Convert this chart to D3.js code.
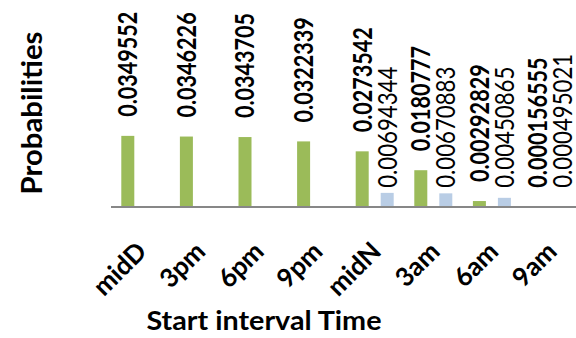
<!DOCTYPE html>
<html>
<head>
<meta charset="utf-8">
<script src="https://cdn.jsdelivr.net/npm/d3@7"></script>
<style>
  html, body { margin: 0; padding: 0; background: #fff; }
  svg { display: block; }
  text { font-family: Lato, "Liberation Sans", sans-serif; fill: #000; }
</style>
</head>
<body>
<svg id="chart" width="576" height="338"></svg>
<script>
// Start interval of the time window
const categories = ["midD", "3pm", "6pm", "9pm", "midN", "3am", "6am", "9am"];
// First series (green, bold labels)
const seriesA = [0.0349552, 0.0346226, 0.0343705, 0.0322339, 0.0273542, 0.0180777, 0.00292829, 0.000156555];
// Second series (light blue); null where there is no bar
const seriesB = [null, null, null, null, 0.00694344, 0.00670883, 0.00450865, 0.000495021];
const seriesLabels = ["0.0349552", "0.0346226", "0.0343705", "0.0322339", "0.0273542", "0.0180777", "0.00292829", "0.000156555"];
const seriesBLabels = [null, null, null, null, "0.00694344", "0.00670883", "0.00450865", "0.000495021"];
const keys = ["a", "b"];
const colors = { a: "#9BBB59", b: "#B9CDE5" };

const svg = d3.select("#chart");
const W = 576, H = 338;
const left = 111, baseY = 207;

const x0 = d3.scaleBand().domain(categories).range([left, left + 8 * 58.6]).paddingInner(0).paddingOuter(0);
const x1 = d3.scaleBand().domain(keys).range([0, x0.bandwidth()]).paddingInner(0.48).paddingOuter(0.412);
const y = d3.scaleLinear().domain([0, 0.04]).range([baseY, baseY - 81.4]);

const rows = categories.map((c, i) => ({
  cat: c,
  items: [
    { key: "a", value: seriesA[i], label: seriesLabels[i] },
    { key: "b", value: seriesB[i], label: seriesBLabels[i] }
  ].filter(d => d.value !== null)
}));

const bMax = d3.max(seriesB);

const g = svg.append("g");
const groups = g.selectAll("g.cat").data(rows).join("g")
  .attr("class", "cat")
  .attr("transform", d => `translate(${x0(d.cat)},0)`);

groups.selectAll("rect").data(d => d.items).join("rect")
  .attr("x", d => x1(d.key))
  .attr("width", x1.bandwidth())
  .attr("y", d => y(d.value))
  .attr("height", d => baseY - y(d.value))
  .attr("fill", d => colors[d.key]);

// Value labels, rotated to read bottom-to-top, slightly condensed
groups.selectAll("text.val").data(d => d.items).join("text")
  .attr("class", "val")
  .attr("transform", d => {
    const cx = x1(d.key) + x1.bandwidth() / 2;
    const yy = d.key === "a" ? y(d.value) - 19 : Math.min(y(d.value), y(bMax)) - 5;
    const sx = d.key === "a" ? 0.83 : 0.855;
    return `translate(${cx},${yy}) rotate(-90) scale(${sx},1)`;
  })
  .attr("dy", "0.36em")
  .attr("text-anchor", "start")
  .style("font-size", "26px")
  .style("font-weight", d => d.key === "a" ? 700 : 400)
  .text(d => d.label);

// Category axis
const axis = d3.axisBottom(x0).tickSize(0).tickPadding(0);
const ax = svg.append("g").attr("transform", `translate(0,${baseY})`).call(axis);
ax.select(".domain").attr("d", `M${left},0H${W}`).attr("stroke", "#878787").attr("stroke-width", 2);
ax.selectAll(".tick text")
  .attr("text-anchor", "end")
  .attr("dy", null)
  .attr("y", null)
  .attr("transform", "translate(8,46) rotate(-45)")
  .style("font-size", "26px")
  .style("font-weight", 700)
  .attr("font-family", null);

// Axis titles
svg.append("text")
  .attr("x", 264).attr("y", 330)
  .attr("text-anchor", "middle")
  .attr("textLength", 235).attr("lengthAdjust", "spacingAndGlyphs")
  .style("font-size", "26px").style("font-weight", 700)
  .text("Start interval Time");

svg.append("text")
  .attr("transform", "translate(42,113) rotate(-90)")
  .attr("text-anchor", "middle")
  .attr("textLength", 163).attr("lengthAdjust", "spacingAndGlyphs")
  .style("font-size", "29px").style("font-weight", 700)
  .text("Probabilities");
</script>
</body>
</html>
